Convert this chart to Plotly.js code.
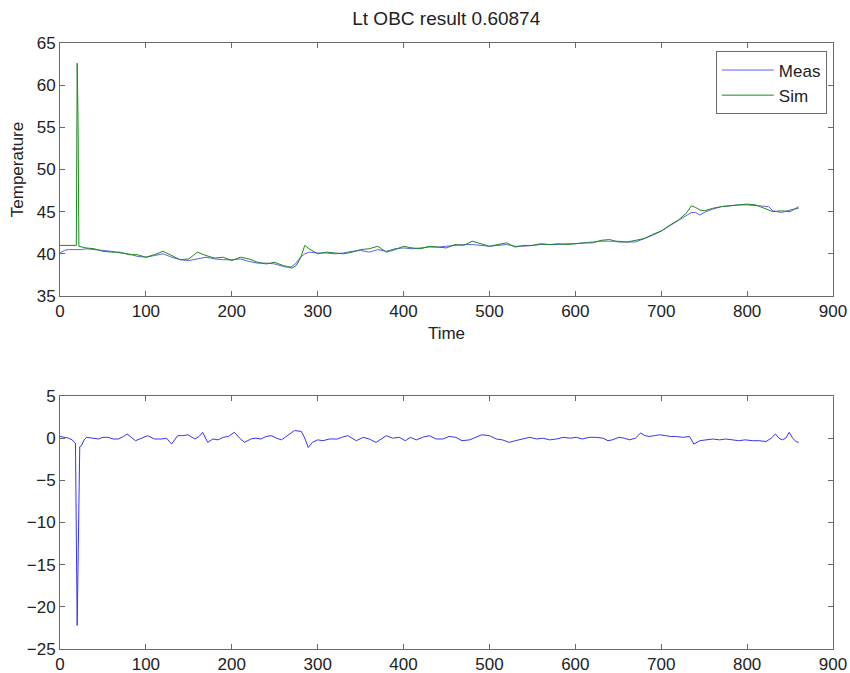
<!DOCTYPE html>
<html>
<head>
<meta charset="utf-8">
<script src="https://cdn.plot.ly/plotly-3.0.1.min.js"></script>
<style>html,body{margin:0;padding:0;background:#fff;}#chart{width:850px;height:673px;}</style>
</head>
<body>
<div id="chart"></div>
<script>
// ---- Data ----
var chartTitle = "Lt OBC result 0.60874";
var timeTop = [0,5,10,15,19,20,21,22,25,30,40,50,60,70,80,90,100,110,120,130,140,150,160,170,180,190,200,210,220,230,240,250,260,265,270,275,280,285,290,300,310,320,330,340,350,360,370,380,390,400,410,420,430,440,450,460,470,480,490,500,510,520,530,540,550,560,570,580,590,600,610,620,630,640,650,660,670,680,690,700,710,720,730,735,740,745,750,760,770,780,790,800,810,820,825,830,840,850,860];
var meas = [40.1,40.4,40.5,40.5,40.5,40.5,40.5,40.5,40.5,40.6,40.5,40.4,40.3,40.1,40.0,39.7,39.6,39.8,40.0,39.6,39.3,39.2,39.4,39.6,39.4,39.3,39.3,39.4,39.1,38.9,38.9,38.8,38.5,38.4,38.5,38.9,39.6,40.0,40.2,40.1,40.1,40.0,40.1,40.3,40.4,40.2,40.5,40.3,40.6,40.7,40.6,40.7,40.8,40.8,40.9,41.0,41.1,41.1,41.0,40.9,41.0,41.1,40.9,40.9,41.0,41.1,41.1,41.1,41.2,41.2,41.3,41.4,41.5,41.5,41.5,41.4,41.4,41.8,42.2,42.7,43.3,43.9,44.5,44.9,44.9,44.6,44.9,45.3,45.6,45.7,45.8,45.8,45.7,45.6,45.6,45.1,44.9,45.2,45.4];
var sim = [41.0,41.0,41.0,41.0,41.0,62.6,55.8,40.9,40.8,40.7,40.6,40.3,40.2,40.2,39.9,39.9,39.6,39.9,40.3,39.8,39.3,39.4,40.2,39.8,39.5,39.6,39.2,39.6,39.4,39.0,38.8,39.0,38.6,38.5,38.3,38.6,39.5,41.0,40.6,40.0,40.2,40.1,40.0,40.2,40.5,40.6,40.9,40.2,40.5,40.9,40.7,40.6,40.9,40.8,40.7,41.1,41.0,41.5,41.2,40.9,41.1,41.3,40.8,41.0,41.0,41.2,41.1,41.2,41.1,41.2,41.3,41.3,41.6,41.7,41.4,41.4,41.6,41.8,42.3,42.7,43.4,44.0,44.9,45.7,45.5,45.2,45.1,45.4,45.6,45.7,45.8,45.9,45.8,45.4,45.2,45.0,45.1,45.0,45.6];
var timeErr = [0,5,10,14,18,20,21,23,25,28,31,38,45,50,56,62,68,74,78,83,88,95,102,110,118,124,130,137,143,149,157,162,166,172,178,184,190,196,203,209,215,222,228,234,240,246,252,258,264,269,273,281,285,289,294,300,306,314,323,328,335,340,345,353,360,368,374,380,387,395,402,408,415,422,430,438,446,453,461,468,477,484,491,500,508,515,523,530,538,547,555,562,570,578,586,594,601,608,616,624,632,638,643,651,657,663,670,676,681,686,692,698,705,711,717,725,733,738,745,752,760,768,775,783,790,798,806,814,822,828,833,837,841,845,849,853,857,860];
var err = [0.2,0.1,0.0,-0.2,-0.6,-22.2,-15.3,-1.0,-0.9,-0.2,0.1,0.0,-0.1,0.1,0.1,-0.1,-0.1,0.2,0.5,0.1,-0.3,0.0,0.3,-0.1,-0.1,0.0,-0.7,0.3,0.3,0.4,-0.1,0.2,0.7,-0.5,-0.1,-0.2,0.1,0.2,0.7,0.0,-0.5,-0.1,0.0,-0.1,0.2,0.3,0.0,-0.2,0.2,0.6,0.9,0.8,0.0,-1.1,-0.5,-0.2,-0.3,-0.1,-0.1,0.1,0.3,0.0,-0.3,0.1,-0.1,-0.5,-0.1,0.3,0.0,0.1,-0.3,0.1,-0.2,0.1,0.3,-0.1,-0.1,0.2,0.1,-0.3,-0.2,0.1,0.4,0.3,-0.1,-0.2,-0.5,-0.3,-0.1,0.1,-0.1,0.0,-0.2,-0.1,0.1,0.0,0.1,-0.1,0.1,0.1,0.0,-0.3,-0.2,0.1,0.0,-0.2,0.0,0.6,0.3,0.2,0.3,0.4,0.3,0.2,0.2,0.1,0.2,-0.7,-0.3,-0.2,-0.1,-0.2,-0.1,-0.2,-0.3,-0.2,-0.3,-0.3,-0.4,0.0,0.5,0.0,-0.2,0.0,0.7,0.0,-0.4,-0.5];

// ---- Chart ----
var blue = "#3535f5", green = "#1a8a1a";
var traces = [
  {x: timeTop, y: meas, name: "Meas", type: "scatter", mode: "lines", line: {color: "#6060f0", width: 1}, xaxis: "x", yaxis: "y"},
  {x: timeTop, y: sim, name: "Sim", type: "scatter", mode: "lines", line: {color: green, width: 1}, xaxis: "x", yaxis: "y"},
  {x: timeErr, y: err, name: "Error", type: "scatter", mode: "lines", line: {color: blue, width: 1}, xaxis: "x2", yaxis: "y2", showlegend: false}
];
var axCommon = {
  showline: true, linecolor: "#6a6a6a", linewidth: 1, mirror: "allticks",
  ticks: "inside", ticklen: 5, tickcolor: "#6a6a6a",
  showgrid: false, zeroline: false, automargin: false,
  tickfont: {family: "Liberation Sans, Arial, sans-serif", size: 17, color: "#222"}
};
function ax(extra) { return Object.assign({}, axCommon, extra); }
var layout = {
  width: 850, height: 673,
  paper_bgcolor: "#fff", plot_bgcolor: "#fff",
  margin: {l: 60, r: 17, t: 43, b: 24},
  font: {family: "Liberation Sans, Arial, sans-serif", size: 17, color: "#222"},
  title: {text: chartTitle, x: 0.525, xanchor: "center", y: 0.973, yanchor: "middle", font: {size: 19, color: "#222"}},
  showlegend: true,
  legend: {x: 0.992, xanchor: "right", y: 0.986, yanchor: "top", bgcolor: "#fff", bordercolor: "#6a6a6a", borderwidth: 1, itemwidth: 52, tracegroupgap: 0, font: {size: 17, color: "#222"}},
  xaxis: ax({domain: [0, 1], range: [0, 900], dtick: 100, tick0: 0, anchor: "y", title: {text: "Time", standoff: 6, font: {size: 17}}}),
  yaxis: ax({domain: [0.5825, 1], range: [35, 65], dtick: 5, tick0: 35, anchor: "x", title: {text: "Temperature", standoff: 8, font: {size: 17}}}),
  xaxis2: ax({domain: [0, 1], range: [0, 900], dtick: 100, tick0: 0, anchor: "y2"}),
  yaxis2: ax({domain: [0, 0.4175], range: [-25, 5], dtick: 5, tick0: -25, anchor: "x2"})
};
Plotly.newPlot("chart", traces, layout, {displayModeBar: false, staticPlot: true});
</script>
</body>
</html>
